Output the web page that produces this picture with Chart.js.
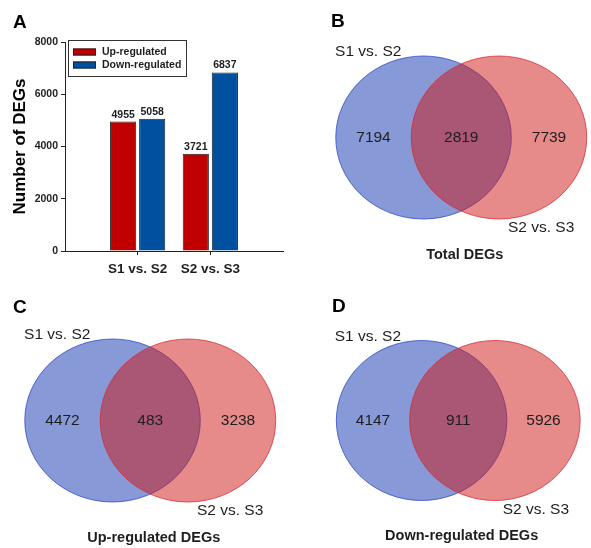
<!DOCTYPE html>
<html>
<head>
<meta charset="utf-8">
<title>DEGs overview</title>
<script src="https://cdn.jsdelivr.net/npm/chart.js@4.4.1/dist/chart.umd.min.js"></script>
<style>
  html, body { margin: 0; padding: 0; background: #fff; }
  #figure { position: relative; width: 591px; height: 548px; overflow: hidden; }
  #figure canvas { position: absolute; }
</style>
</head>
<body>
<div id="figure">
  <canvas id="chartA" width="295" height="285" style="left:0;top:0"></canvas>
  <canvas id="vennB" width="296" height="275" style="left:295px;top:0"></canvas>
  <canvas id="vennC" width="295" height="273" style="left:0;top:275px"></canvas>
  <canvas id="vennD" width="296" height="273" style="left:295px;top:275px"></canvas>
</div>
<script>
// Panel A data
const groupLabels = ['', 'S1 vs. S2', 'S2 vs. S3', ''];
const upRegulated = [null, 4955, 3721, null];
const downRegulated = [null, 5058, 6837, null];
const yTicks = [0, 2000, 4000, 6000, 8000];

// Venn data (left only, shared, right only)
const vennSets = ['S1 vs. S2', 'S2 vs. S3'];
const totalCounts = [7194, 2819, 7739];
const upCounts = [4472, 483, 3238];
const downCounts = [4147, 911, 5926];
const vennTitles = ['Total DEGs', 'Up-regulated DEGs', 'Down-regulated DEGs'];

const FONT = '"Liberation Sans", Arial, Helvetica, sans-serif';
const INK = '#1e1e1e';

function drawLetter(ctx, letter, x, y) {
    ctx.save();
    ctx.font = 'bold 19px ' + FONT;
    ctx.fillStyle = '#000';
    ctx.textAlign = 'left';
    ctx.textBaseline = 'alphabetic';
    ctx.fillText(letter, x, y);
    ctx.restore();
}

// Bar value labels + boxed legend for panel A
const barExtras = {
    id: 'barExtras',
    afterDatasetsDraw(chart) {
        const ctx = chart.ctx;
        ctx.save();
        ctx.font = 'bold 10.5px ' + FONT;
        ctx.fillStyle = INK;
        ctx.textAlign = 'center';
        ctx.textBaseline = 'alphabetic';
        chart.data.datasets.forEach((ds, i) => {
            chart.getDatasetMeta(i).data.forEach((bar, j) => {
                if (ds.data[j] == null) return;
                ctx.fillText(ds.data[j], bar.x, bar.y - 4);
            });
        });
        ctx.restore();
    },
    afterDraw(chart) {
        const {ctx, chartArea} = chart;
        const x0 = chartArea.left + 3, y0 = chartArea.top - 2;
        ctx.save();
        ctx.fillStyle = '#fff';
        ctx.fillRect(x0, y0, 118, 36);
        ctx.strokeStyle = '#333';
        ctx.lineWidth = 1;
        ctx.strokeRect(x0 + 0.5, y0 + 0.5, 118, 36);
        ctx.font = 'bold 10.5px ' + FONT;
        ctx.textBaseline = 'middle';
        ctx.textAlign = 'left';
        chart.data.datasets.forEach((ds, i) => {
            const cy = y0 + 12 + i * 13;
            ctx.fillStyle = ds.backgroundColor;
            ctx.fillRect(x0 + 5, cy - 3.5, 23, 7);
            ctx.strokeStyle = '#222';
            ctx.strokeRect(x0 + 5.5, cy - 3, 22, 6);
            ctx.fillStyle = INK;
            ctx.fillText(ds.label, x0 + 34, cy);
        });
        ctx.restore();
        drawLetter(ctx, 'A', 13, 28);
    }
};

new Chart(document.getElementById('chartA'), {
    type: 'bar',
    data: {
        labels: groupLabels,
        datasets: [
            { label: 'Up-regulated', data: upRegulated, backgroundColor: '#c00000', borderColor: '#222', borderWidth: 1 },
            { label: 'Down-regulated', data: downRegulated, backgroundColor: '#0050a0', borderColor: '#222', borderWidth: 1 }
        ]
    },
    options: {
        responsive: false,
        animation: false,
        layout: { padding: { left: 0, top: 42, right: 12, bottom: 0 } },
        plugins: { legend: { display: false }, tooltip: { enabled: false } },
        scales: {
            x: {
                offset: false,
                border: { display: true, color: '#222', width: 1 },
                grid: {
                    offset: false,
                    drawOnChartArea: false,
                    tickLength: 4,
                    color: (c) => (c.index === 1 || c.index === 2) ? '#222' : 'rgba(0,0,0,0)'
                },
                ticks: { font: { family: FONT, size: 13.5, weight: 'bold' }, color: INK, padding: 6, maxRotation: 0, autoSkip: false },
                afterFit(s) { s.height = 34; }
            },
            y: {
                min: 0,
                max: 8000,
                afterBuildTicks(s) { s.ticks = yTicks.map(v => ({ value: v })); },
                border: { display: true, color: '#222', width: 1 },
                grid: { drawOnChartArea: false, tickLength: 4, color: '#222' },
                ticks: {
                    font: { family: FONT, size: 10.5, weight: 'bold' },
                    color: INK,
                    padding: 3,
                    callback: (v) => String(v)
                },
                title: {
                    display: true,
                    text: 'Number of DEGs',
                    font: { family: FONT, size: 17, weight: 'bold' },
                    color: '#000',
                    padding: { top: 10, bottom: 0 }
                },
                afterFit(s) { s.width = 65; }
            }
        }
    },
    plugins: [barExtras]
});

// Venn panels: circles of radius 1 in data units, the axis ranges set the ellipse shape
function makeVenn(id, letter, counts, title, frame) {
    const canvas = document.getElementById(id);
    const W = canvas.width, H = canvas.height;
    const circles = [
        { cx: -0.43, cy: 0, r: 1, fill: 'rgba(15,51,173,0.5)', stroke: 'rgba(40,70,200,0.75)' },
        { cx: 0.43, cy: 0, r: 1, fill: 'rgba(205,21,21,0.5)', stroke: 'rgba(215,40,50,0.75)' }
    ];
    const names = [
        { text: vennSets[0], x: -1.06, y: 1.05 },
        { text: vennSets[1], x: 0.91, y: -1.11 }
    ];

    const vennDraw = {
        id: 'vennDraw',
        beforeDatasetsDraw(chart) {
            const {ctx, scales: {x, y}} = chart;
            circles.forEach(c => {
                const px = x.getPixelForValue(c.cx), py = y.getPixelForValue(c.cy);
                const rx = x.getPixelForValue(c.cx + c.r) - px;
                const ry = py - y.getPixelForValue(c.cy + c.r);
                ctx.save();
                ctx.beginPath();
                ctx.ellipse(px, py, rx, ry, 0, 0, Math.PI * 2);
                ctx.fillStyle = c.fill;
                ctx.fill();
                ctx.lineWidth = 1;
                ctx.strokeStyle = c.stroke;
                ctx.stroke();
                ctx.restore();
            });
        },
        afterDatasetsDraw(chart) {
            const {ctx, scales: {x, y}} = chart;
            const ds = chart.data.datasets[0];
            ctx.save();
            ctx.fillStyle = INK;
            ctx.textAlign = 'center';
            ctx.textBaseline = 'middle';
            ctx.font = '15.5px ' + FONT;
            chart.getDatasetMeta(0).data.forEach((pt, i) => {
                ctx.fillText(ds.data[i].v, pt.x, pt.y);
            });
            names.forEach(n => {
                ctx.fillText(n.text, x.getPixelForValue(n.x), y.getPixelForValue(n.y));
            });
            ctx.font = 'bold 14.5px ' + FONT;
            ctx.fillText(title, x.getPixelForValue(0.04), y.getPixelForValue(-1.44));
            ctx.restore();
            drawLetter(ctx, letter, frame.lx, frame.ly);
        }
    };

    return new Chart(canvas, {
        type: 'scatter',
        data: {
            datasets: [{
                label: title,
                data: counts.map((v, i) => ({ x: i - 1, y: 0, v: v })),
                pointRadius: 0
            }]
        },
        options: {
            responsive: false,
            animation: false,
            layout: { padding: 0 },
            plugins: { legend: { display: false }, tooltip: { enabled: false } },
            scales: {
                x: { type: 'linear', display: false, min: -frame.midX / frame.ppx, max: (W - frame.midX) / frame.ppx },
                y: { type: 'linear', display: false, min: -(H - frame.midY) / frame.ppy, max: frame.midY / frame.ppy }
            }
        },
        plugins: [vennDraw]
    });
}

makeVenn('vennB', 'B', totalCounts, vennTitles[0], { midX: 166.25, midY: 137.5, ppx: 87.75, ppy: 81.5, lx: 36, ly: 27 });
makeVenn('vennC', 'C', upCounts, vennTitles[1], { midX: 150.25, midY: 145.5, ppx: 87.75, ppy: 81.5, lx: 13, ly: 38 });
makeVenn('vennD', 'D', downCounts, vennTitles[2], { midX: 163.25, midY: 145.5, ppx: 85.25, ppy: 80, lx: 37, ly: 37 });
</script>
</body>
</html>
